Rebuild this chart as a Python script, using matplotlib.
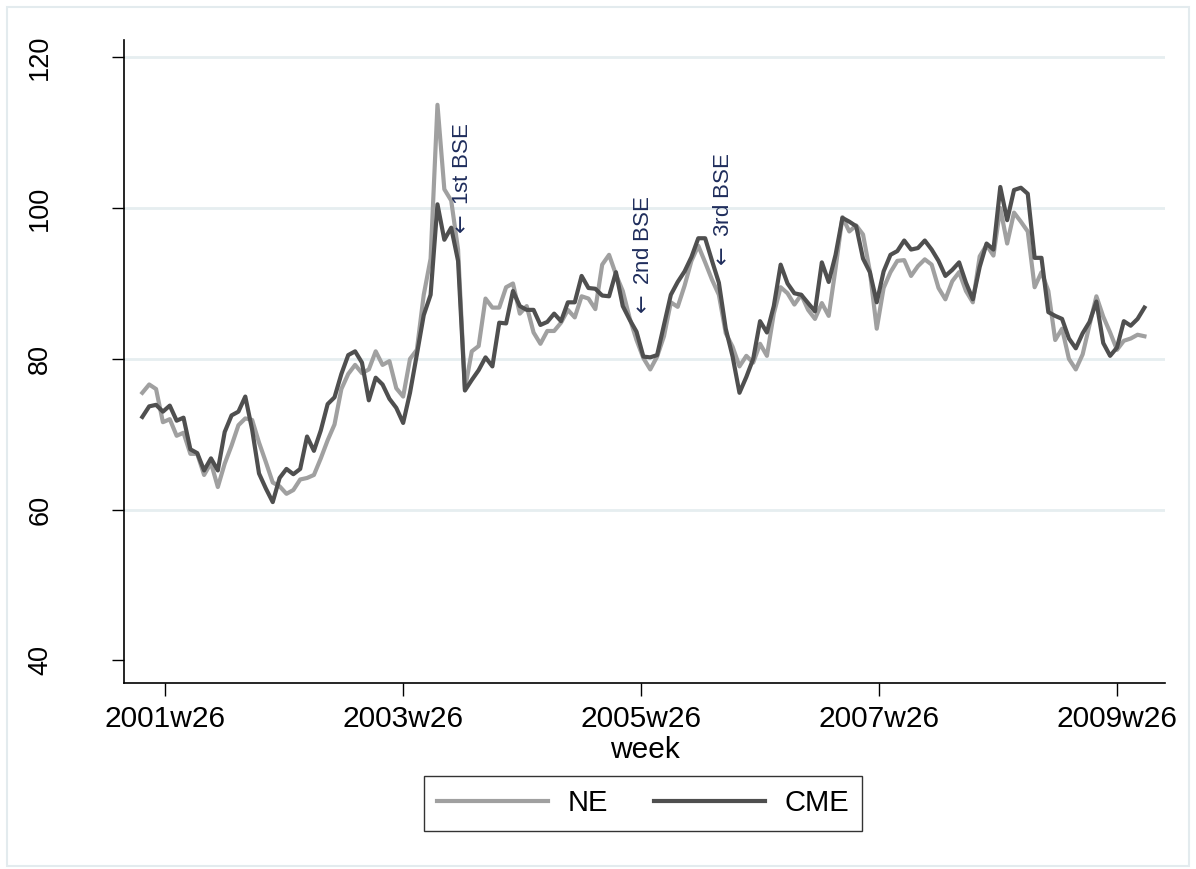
import numpy as np
import matplotlib.pyplot as plt
from matplotlib.patches import Rectangle

# weekly series, sampled every 3 weeks starting 2001w16 (Stata %tw = 2147)
week_start = 2147
week_step = 3

ne = [75.5, 76.6, 76.0, 71.6, 72.0, 69.8, 70.2, 67.4, 67.4, 64.6,
      66.2, 63.0, 66.1, 68.5, 71.2, 72.1, 71.9, 68.9, 66.3, 63.6,
      63.1, 62.1, 62.6, 64.0, 64.2, 64.6, 66.8, 69.2, 71.3, 76.0,
      78.0, 79.2, 78.1, 78.6, 81.0, 79.2, 79.7, 76.1, 75.0, 80.0,
      81.2, 88.5, 93.3, 113.7, 102.5, 101.0, 94.5, 76.0, 81.0, 81.7,
      88.0, 86.8, 86.8, 89.5, 90.0, 86.0, 87.0, 83.5, 82.0, 83.7,
      83.7, 84.8, 86.5, 85.5, 88.3, 88.0, 86.6, 92.5, 93.8, 91.2,
      89.0, 85.4, 82.5, 80.1, 78.6, 80.3, 83.0, 87.5, 86.9, 89.7,
      93.0, 95.0, 92.8, 90.5, 88.5, 83.4, 81.6, 79.0, 80.4, 79.5,
      82.0, 80.4, 86.0, 89.5, 88.7, 87.2, 88.5, 86.5, 85.3, 87.4,
      85.7, 92.0, 98.8, 96.9, 97.7, 96.5, 91.6, 84.0, 89.4, 91.5,
      93.0, 93.1, 91.0, 92.3, 93.2, 92.5, 89.4, 87.9, 90.3, 91.5,
      89.0, 87.5, 93.6, 95.1, 93.7, 100.0, 95.3, 99.4, 98.2, 96.9,
      89.5, 91.5, 89.0, 82.5, 84.0, 80.0, 78.6, 80.6, 84.5, 88.3,
      85.6, 83.5, 81.2, 82.4, 82.7, 83.2, 83.0]

cme = [72.3, 73.7, 73.9, 73.0, 73.8, 71.8, 72.2, 68.0, 67.5, 65.2,
       66.8, 65.2, 70.3, 72.5, 73.0, 75.0, 70.6, 64.8, 62.8, 61.0,
       64.2, 65.4, 64.7, 65.4, 69.7, 67.8, 70.5, 74.0, 74.9, 78.0,
       80.5, 81.0, 79.5, 74.5, 77.5, 76.6, 74.7, 73.5, 71.5, 75.5,
       80.6, 85.8, 88.5, 100.5, 95.8, 97.4, 93.0, 75.8, 77.2, 78.5,
       80.2, 79.0, 84.8, 84.7, 89.0, 87.0, 86.5, 86.5, 84.5, 84.9,
       86.0, 85.0, 87.5, 87.5, 91.0, 89.4, 89.3, 88.4, 88.3, 91.5,
       87.0, 85.2, 83.6, 80.3, 80.2, 80.5, 84.5, 88.5, 90.2, 91.6,
       93.5, 96.0, 96.0, 93.0, 90.1, 84.0, 80.3, 75.5, 77.6, 80.0,
       85.0, 83.5, 87.0, 92.5, 90.0, 88.7, 88.5, 87.4, 86.3, 92.8,
       90.2, 93.8, 98.7, 98.2, 97.6, 93.3, 91.5, 87.5, 91.6, 93.8,
       94.3, 95.7, 94.5, 94.7, 95.7, 94.5, 93.0, 91.0, 91.8, 92.8,
       90.1, 87.9, 92.2, 95.3, 94.5, 102.8, 98.4, 102.4, 102.7, 101.9,
       93.4, 93.4, 86.2, 85.7, 85.3, 82.7, 81.4, 83.4, 84.9, 87.6,
       82.1, 80.4, 81.5, 85.0, 84.4, 85.3, 86.8]

tick_weeks = [2157, 2261, 2365, 2469, 2573]
tick_labels = ['2001w26', '2003w26', '2005w26', '2007w26', '2009w26']
y_ticks = [40, 60, 80, 100, 120]

bse_labels = ['1st BSE', '2nd BSE', '3rd BSE']
bse_weeks = [2287, 2366, 2401]
bse_vals = [96.0, 85.4, 91.8]

plt.rcParams['font.family'] = ['Liberation Sans', 'DejaVu Sans']

fig = plt.figure(figsize=(11.96, 8.69), dpi=100)
ax = fig.add_axes([0.1037, 0.2140, 0.8704, 0.7400])

weeks = week_start + week_step * np.arange(len(ne))
ax.plot(weeks, ne, color='#a0a0a0', lw=3.0, label='NE')
ax.plot(weeks, cme, color='#4f4f4f', lw=3.0, label='CME')

for v in y_ticks[1:]:
    ax.axhline(v, color='#e6eef0', lw=2, zorder=0)

for lbl, w, v in zip(bse_labels, bse_weeks, bse_vals):
    ax.text(w, v, r'$\leftarrow$ ' + lbl, rotation=90, ha='center', va='bottom',
            fontsize=16, color='#1f2d5c')

ax.set_xlim(2139, 2594)
ax.set_ylim(37, 122.3)
ax.set_xticks(tick_weeks)
ax.set_xticklabels(tick_labels)
ax.set_yticks(y_ticks)
ax.set_yticklabels([str(v) for v in y_ticks], rotation=90, va='center')
ax.set_xlabel('week', fontsize=21.5, labelpad=2)

for s in ['top', 'right']:
    ax.spines[s].set_visible(False)
for s in ['left', 'bottom']:
    ax.spines[s].set_linewidth(1.2)

ax.tick_params(axis='both', direction='out', length=9, width=1)
ax.tick_params(axis='y', pad=42, labelsize=19.5)
ax.tick_params(axis='x', pad=7, labelsize=21.5)

handles, labels = ax.get_legend_handles_labels()
leg = fig.legend(handles, labels, loc='center', bbox_to_anchor=(0.5376, 0.0754),
                 ncol=2, fontsize=21, frameon=True, fancybox=False,
                 edgecolor='black', handlelength=3.82, handletextpad=0.65,
                 columnspacing=1.58, borderpad=0.45)
leg.get_frame().set_linewidth(1.0)

fig.patches.append(Rectangle((0.00585, 0.00345), 0.9883, 0.9885,
                             transform=fig.transFigure, fill=False,
                             ec='#e3ebee', lw=1.5))

fig.savefig('out.png', dpi=100)
